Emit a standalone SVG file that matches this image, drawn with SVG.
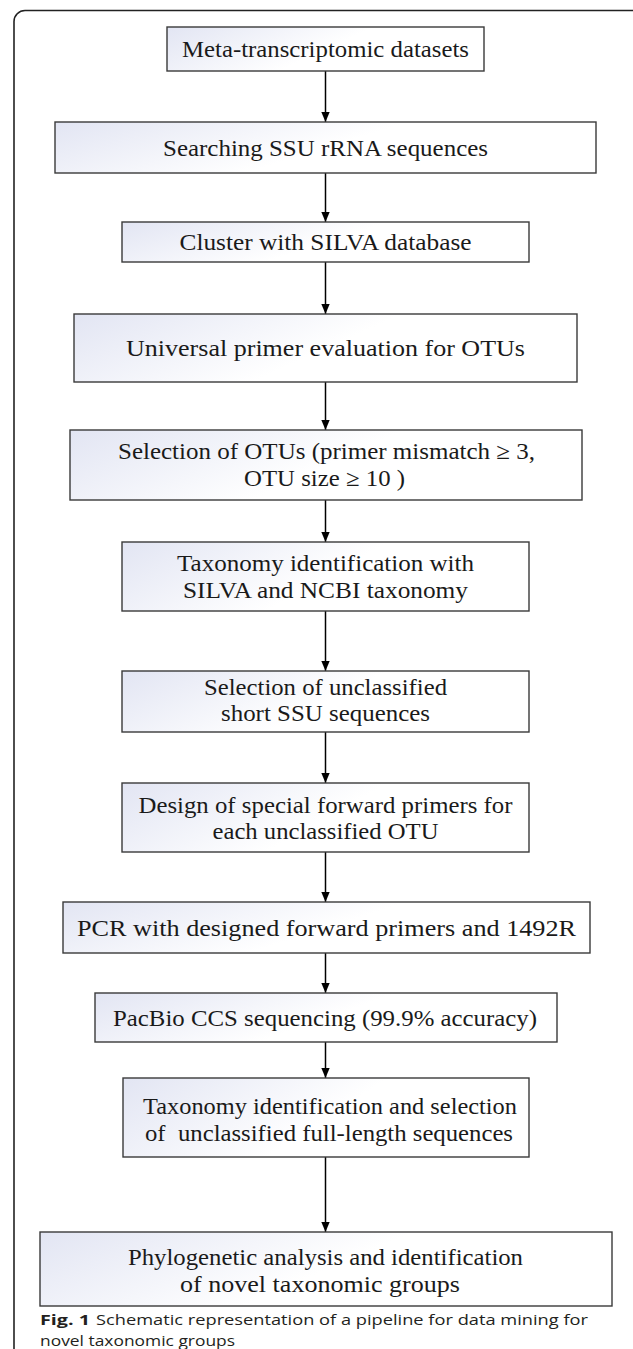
<svg xmlns="http://www.w3.org/2000/svg" width="633" height="1349" viewBox="0 0 633 1349">
<style>
  .box { stroke: #3a3a3a; stroke-width: 1.4; fill: url(#g); }
  .t { font-family: "Liberation Serif", "Times New Roman", Times, serif; font-size: 23px; fill: #1a1a1a; text-anchor: middle; }
  .cap { font-family: "Open Sans", "Liberation Sans", sans-serif; font-size: 15px; fill: #231f20; }
  .conn line { stroke: #000; stroke-width: 1.5; }
</style>
<defs>
  <linearGradient id="g" x1="0" y1="0" x2="1" y2="0.3">
    <stop offset="0" stop-color="#e2e5f3"/>
    <stop offset="0.6" stop-color="#ffffff"/>
    <stop offset="1" stop-color="#ffffff"/>
  </linearGradient>
  <marker id="ah" markerUnits="userSpaceOnUse" markerWidth="10" markerHeight="12" refX="12" refY="5" orient="auto" viewBox="0 0 12 10">
    <path d="M0,0 L12,5 L0,10 z" fill="#000"/>
  </marker>
</defs>
<rect x="14" y="10.5" width="630" height="1400" rx="11" fill="#fff" stroke="#222" stroke-width="1.6"/>

<g class="conn">
  <line x1="325.5" y1="71" x2="325.5" y2="122" marker-end="url(#ah)"/>
  <line x1="325.5" y1="173" x2="325.5" y2="222" marker-end="url(#ah)"/>
  <line x1="325.5" y1="262" x2="325.5" y2="314" marker-end="url(#ah)"/>
  <line x1="325.5" y1="382" x2="325.5" y2="430" marker-end="url(#ah)"/>
  <line x1="325.5" y1="500" x2="325.5" y2="542" marker-end="url(#ah)"/>
  <line x1="325.5" y1="611" x2="325.5" y2="671" marker-end="url(#ah)"/>
  <line x1="325.5" y1="732" x2="325.5" y2="783" marker-end="url(#ah)"/>
  <line x1="325.5" y1="852" x2="325.5" y2="902" marker-end="url(#ah)"/>
  <line x1="325.5" y1="953" x2="325.5" y2="993" marker-end="url(#ah)"/>
  <line x1="325.5" y1="1042" x2="325.5" y2="1078" marker-end="url(#ah)"/>
  <line x1="325.5" y1="1157" x2="325.5" y2="1232" marker-end="url(#ah)"/>
</g>

<g id="n1"><rect class="box" x="167" y="27" width="317" height="44"/>
  <text class="t" x="325.5" y="57" textLength="287" lengthAdjust="spacingAndGlyphs">Meta-transcriptomic datasets</text></g>
<g id="n2"><rect class="box" x="55" y="122" width="541" height="51"/>
  <text class="t" x="325.5" y="156" textLength="325" lengthAdjust="spacingAndGlyphs">Searching SSU rRNA sequences</text></g>
<g id="n3"><rect class="box" x="122" y="222" width="407" height="40"/>
  <text class="t" x="325.5" y="250" textLength="292" lengthAdjust="spacingAndGlyphs">Cluster with SILVA database</text></g>
<g id="n4"><rect class="box" x="74" y="314" width="503" height="68"/>
  <text class="t" x="325.5" y="356" textLength="399" lengthAdjust="spacingAndGlyphs">Universal primer evaluation for OTUs</text></g>
<g id="n5"><rect class="box" x="70" y="430" width="512" height="70"/>
  <text class="t" x="326.5" y="459" textLength="417" lengthAdjust="spacingAndGlyphs">Selection of OTUs (primer mismatch ≥ 3,</text>
  <text class="t" x="324.5" y="486" textLength="161" lengthAdjust="spacingAndGlyphs">OTU size ≥ 10 )</text></g>
<g id="n6"><rect class="box" x="122" y="542" width="407" height="69"/>
  <text class="t" x="325.5" y="571" textLength="297" lengthAdjust="spacingAndGlyphs">Taxonomy identification with</text>
  <text class="t" x="325.5" y="598" textLength="285" lengthAdjust="spacingAndGlyphs">SILVA and NCBI taxonomy</text></g>
<g id="n7"><rect class="box" x="122" y="671" width="407" height="61"/>
  <text class="t" x="325.5" y="695" textLength="243" lengthAdjust="spacingAndGlyphs">Selection of unclassified</text>
  <text class="t" x="325.5" y="721" textLength="209" lengthAdjust="spacingAndGlyphs">short SSU sequences</text></g>
<g id="n8"><rect class="box" x="122" y="783" width="407" height="69"/>
  <text class="t" x="325.5" y="813" textLength="374" lengthAdjust="spacingAndGlyphs">Design of special forward primers for</text>
  <text class="t" x="325.5" y="839" textLength="226" lengthAdjust="spacingAndGlyphs">each unclassified OTU</text></g>
<g id="n9"><rect class="box" x="63" y="902" width="527" height="51"/>
  <text class="t" x="326.5" y="936" textLength="499" lengthAdjust="spacingAndGlyphs">PCR with designed forward primers and 1492R</text></g>
<g id="n10"><rect class="box" x="95" y="993" width="462" height="49"/>
  <text class="t" x="325" y="1026" textLength="424" lengthAdjust="spacingAndGlyphs">PacBio CCS sequencing (99.9% accuracy)</text></g>
<g id="n11"><rect class="box" x="123" y="1078" width="406" height="79"/>
  <text class="t" x="330" y="1114" textLength="374" lengthAdjust="spacingAndGlyphs">Taxonomy identification and selection</text>
  <text class="t" x="329" y="1141" textLength="368" lengthAdjust="spacingAndGlyphs" xml:space="preserve">of  unclassified full-length sequences</text></g>
<g id="n12"><rect class="box" x="40" y="1232" width="572" height="74"/>
  <text class="t" x="325.5" y="1265" textLength="395" lengthAdjust="spacingAndGlyphs">Phylogenetic analysis and identification</text>
  <text class="t" x="320" y="1292" textLength="280" lengthAdjust="spacingAndGlyphs">of novel taxonomic groups</text></g>

<g id="caption">
  <text class="cap" x="40" y="1325" font-weight="bold" textLength="50" lengthAdjust="spacingAndGlyphs">Fig. 1</text>
  <text class="cap" x="96" y="1325" textLength="492" lengthAdjust="spacingAndGlyphs">Schematic representation of a pipeline for data mining for</text>
  <text class="cap" x="40" y="1346" textLength="195" lengthAdjust="spacingAndGlyphs">novel taxonomic groups</text>
</g>
</svg>
